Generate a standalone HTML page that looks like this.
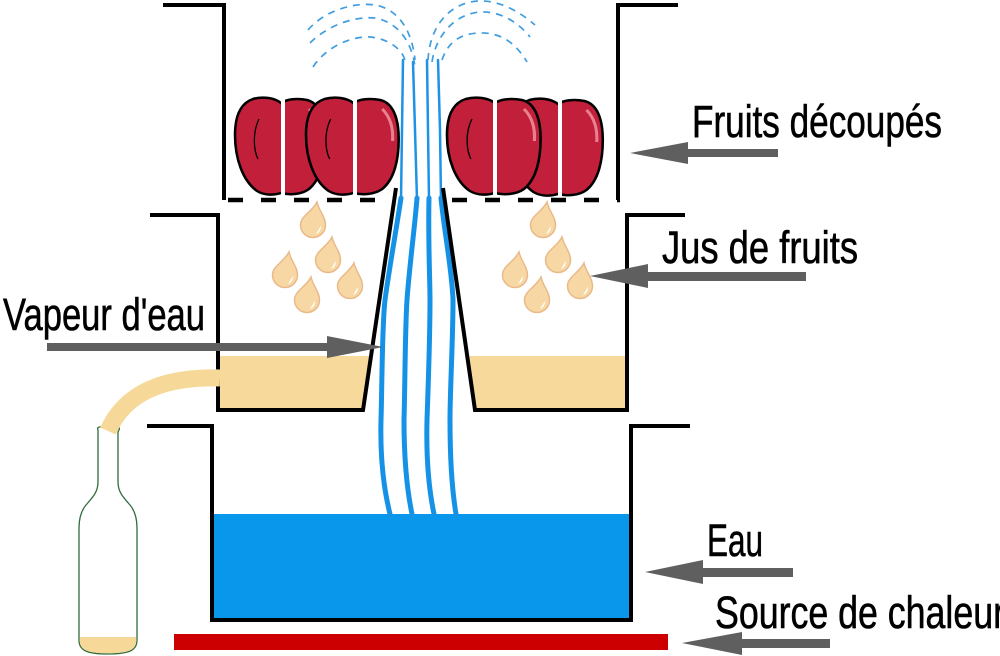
<!DOCTYPE html>
<html><head><meta charset="utf-8"><style>
html,body{margin:0;padding:0;background:#fff;}
svg{display:block;}
text{font-family:"Liberation Sans Narrow","Liberation Sans",sans-serif;font-size:45px;fill:#000;stroke:#000;stroke-width:0.6;}
</style></head><body>
<svg width="1000" height="656" viewBox="0 0 1000 656" xmlns="http://www.w3.org/2000/svg">
<defs>
<path id="apple" d="M46,6 C40,1 28,-1 18,2 C6,6 0,18 0,38 C0,62 8,84 22,94 C30,99 40,98 46,96 C54,98 66,98 74,92 C86,82 90,62 90,42 C90,20 84,6 72,3 C62,1 52,2 46,6 Z"/>
<g id="drop">
<path d="M4,-23 C6,-14 12.5,-8 12.5,0 A12.5,12.5 0 0,1 -12.5,0 C-12.5,-9 -1,-13 4,-23 Z" fill="#f7d8a4" stroke="#eab98a" stroke-width="1.5"/>
<path d="M8,1 C8,5 6,8 3,9 C5,6 6,4 8,1 Z" fill="#fff"/>
</g>
<g id="appleFull">
<use href="#apple" fill="#c21f3a" stroke="#000" stroke-width="2.5"/>
<path d="M24,22 C18,34 18,52 23,62" fill="none" stroke="#000" stroke-width="1.3"/>
<path d="M74,12 C82,20 85,32 84,44" fill="none" stroke="#e8808f" stroke-width="3"/>
</g>
</defs>

<!-- juice fills -->
<polygon points="219,356 371,356 363,408 219,408" fill="#f8d99c"/>
<polygon points="467,356 625,356 625,408 475,408" fill="#f8d99c"/>

<!-- water -->
<rect x="212" y="514" width="418" height="106" fill="#0897ea"/>

<!-- heat bar -->
<rect x="174" y="634" width="494" height="16" fill="#cc0000"/>

<!-- steam lines lower (thick) -->
<g fill="none" stroke="#1592e6" stroke-width="5" stroke-linejoin="round" stroke-linecap="round">
<path d="M401,198 C397,225 389,270 385,300 C382,325 382,390 381,420 C380,460 384,490 390,514"/>
<path d="M417,198 C415,225 409,270 407,300 C405,330 405,390 404,420 C404,460 407,490 412,514"/>
<path d="M429,198 C428,240 430,280 430,300 C430,340 428,390 427,420 C426,460 429,490 434,514"/>
<path d="M441,198 C444,230 452,270 453,300 C453,340 450,390 450,420 C450,460 452,490 456,514"/>
</g>
<!-- steam lines upper (thin) -->
<g fill="none" stroke="#1e93e6" stroke-width="2.5" stroke-linecap="round">
<path d="M403,60 L402,130 L401,200"/>
<path d="M413,62 L415,130 L417,200"/>
<path d="M427,60 L428,130 L429,200"/>
<path d="M438,60 L440,130 L441,200"/>
</g>
<!-- dashed vapour arcs -->
<g fill="none" stroke="#3f9de0" stroke-width="1.7" stroke-dasharray="7 6">
<path d="M308,30 C325,10 355,2 375,5 C398,9 412,30 415,60"/>
<path d="M310,43 C328,25 355,16 375,18 C398,22 412,42 415,67"/>
<path d="M313,67 C325,48 350,36 370,37 C390,39 402,50 405,60"/>
<path d="M428,60 C430,25 450,3 478,1 C500,0 520,12 535,25"/>
<path d="M432,62 C436,35 455,14 480,12 C500,11 518,22 530,37"/>
<path d="M442,60 C448,42 460,34 478,33 C500,32 515,42 527,62"/>
</g>

<!-- apples -->
<g transform="translate(235,97)"><use href="#appleFull"/></g>
<rect x="281" y="94" width="4" height="104" fill="#fff"/>
<g transform="translate(306,97) scale(1.03,1)"><use href="#appleFull"/></g>
<rect x="353" y="94" width="4" height="104" fill="#fff"/>
<g transform="translate(511,98) scale(1.02,1)"><use href="#appleFull"/></g>
<rect x="558" y="94" width="4" height="104" fill="#fff"/>
<g transform="translate(447,97) scale(1.04,1)"><use href="#appleFull"/></g>
<rect x="493" y="94" width="4" height="104" fill="#fff"/>

<!-- drops -->
<use href="#drop" transform="translate(313,225)"/>
<use href="#drop" transform="translate(328,260)"/>
<use href="#drop" transform="translate(285,275)"/>
<use href="#drop" transform="translate(350,286)"/>
<use href="#drop" transform="translate(307,300)"/>
<use href="#drop" transform="translate(543,225)"/>
<use href="#drop" transform="translate(558,260)"/>
<use href="#drop" transform="translate(515,275)"/>
<use href="#drop" transform="translate(580,286)"/>
<use href="#drop" transform="translate(537,300)"/>

<!-- walls -->
<g fill="none" stroke="#000" stroke-width="4" stroke-linejoin="miter">
<path d="M163,5 L224,5 L224,200"/>
<path d="M678,5 L618,5 L618,200"/>
<path d="M150,215 L218,215 L218,410 L363,410 L396,188"/>
<path d="M443,188 L475,410 L627,410 L627,215 L685,215"/>
<path d="M147,426 L212,426 L212,620 L631,620 L631,426 L690,426"/>
</g>
<!-- dashed grid line -->
<g stroke="#000" stroke-width="4.5" stroke-dasharray="15 18">
<line x1="228" y1="200" x2="382" y2="200"/>
<line x1="452" y1="200" x2="620" y2="200"/>
</g>

<!-- bottle -->
<path d="M98,430 C97,428 98,427 100,427 L117,427 C119,427 120,428 119,430 L118,432 L118,482 C118,492 123,497 130,505 C135,511 137,518 137,528 L137,640 C137,650 130,654 108,654 C86,654 79,650 79,640 L79,528 C79,518 81,511 86,505 C93,497 98,492 98,482 L98,432 Z" fill="#fff" stroke="#2f6b3a" stroke-width="1.3"/>
<path d="M79.7,637 L136.3,637 L136.3,640 C136.3,649.5 130,653.3 108,653.3 C86,653.3 79.7,649.5 79.7,640 Z" fill="#f6d898"/>
<!-- tube -->
<path d="M220,378 C175,377 128,386 108,431" fill="none" stroke="#f6d898" stroke-width="17"/>

<!-- arrows -->
<g fill="#5f5f5f">
<polygon points="630,153 688,142 688,149 778,149 778,157 688,157 688,164"/>
<polygon points="590,276 648,264 648,272 806,272 806,281 648,281 648,288"/>
<polygon points="383,347 327,336 327,343 47,343 47,351 327,351 327,358"/>
<polygon points="645,572 703,560 703,568 793,568 793,577 703,577 703,584"/>
<polygon points="682,643 742,632 742,639 830,639 830,648 742,648 742,655"/>
</g>

<!-- labels -->
<text x="692" y="137" textLength="250" lengthAdjust="spacingAndGlyphs">Fruits découpés</text>
<text x="662" y="263" textLength="196" lengthAdjust="spacingAndGlyphs">Jus de fruits</text>
<text x="3" y="330" textLength="202" lengthAdjust="spacingAndGlyphs">Vapeur d'eau</text>
<text x="707" y="556" textLength="56" lengthAdjust="spacingAndGlyphs">Eau</text>
<text x="715" y="628" textLength="290" lengthAdjust="spacingAndGlyphs">Source de chaleur</text>
</svg>
</body></html>
